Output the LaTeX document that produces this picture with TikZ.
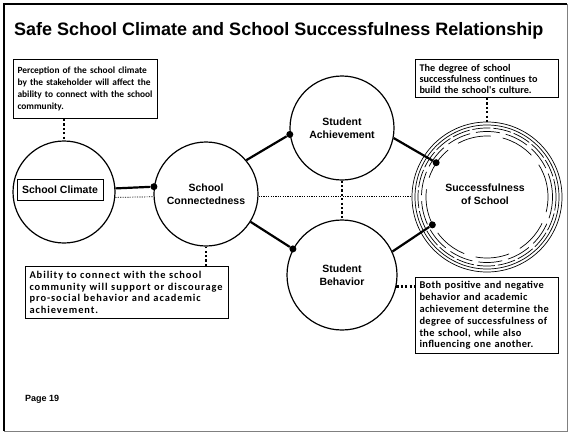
\documentclass[tikz,border=0pt]{standalone}
\usepackage{fontspec}
\setmainfont{Liberation Sans}
\newfontfamily\notefont{Carlito}
\newfontfamily\notefontwide[LetterSpace=9]{Carlito}
\newfontfamily\notefontmid[LetterSpace=3.5]{Carlito}
\usetikzlibrary{calc}

\tikzset{
  bubble/.style={circle, draw, line width=1.2pt, inner sep=0pt,
    font=\bfseries\fontsize{10.5}{13}\selectfont, align=center},
  halo/.style={circle, draw, line width=0.7pt, inner sep=0pt},
  link/.style={line width=2.2pt},
  joint/.style={circle, fill, inner sep=0pt, minimum size=7pt},
  faintlink/.style={line width=0.7pt, dash pattern=on 1.2pt off 1.2pt},
  heavylink/.style={line width=2.2pt, dash pattern=on 2.2pt off 2.2pt},
  note/.style={draw, line width=1pt, anchor=north west, inner sep=4pt,
    align=left, execute at begin node={\hyphenpenalty=10000\relax}},
}

\begin{document}
\begin{tikzpicture}[x=1pt, y=-1pt]
\useasboundingbox (0,0) rectangle (570,434);

% page frame
\draw[line width=2pt] (4,431) -- (4,4) -- (567,4);
\draw[gray, line width=0.8pt] (567,4) -- (567,431) -- (4,431);

% title and page number
\node[anchor=base west, inner sep=0pt, font=\bfseries\fontsize{18}{20}\selectfont]
  (title) at (14,35) {Safe School Climate and School Successfulness Relationship};
\node[anchor=base west, inner sep=0pt, font=\bfseries\fontsize{9}{10}\selectfont]
  (page) at (25,401) {Page 19};

% main circles
\node[bubble, minimum size=102pt] (climate) at (64,192) {};
\node[draw, line width=1pt, minimum width=86pt, minimum height=21pt, inner sep=0pt,
  font=\bfseries\fontsize{10.5}{12}\selectfont] (climatelabel) at (60,190) {School Climate};
\node[bubble, minimum size=104pt] (connect) at (206,194) {School\\Connectedness};
\node[bubble, minimum size=104pt] (achieve) at (342,128) {Student\\Achievement};
\node[bubble, minimum size=110pt] (behavior) at (342,275) {Student\\Behavior};

% successfulness: concentric rings
\node[halo, minimum size=150pt] (success) at (487,197) {};
\node[halo, minimum size=144pt] (ringb) at (success) {};
\node[halo, minimum size=138pt, dash pattern=on 18pt off 3pt] (ringc) at (success) {};
\node[halo, minimum size=131pt, dash pattern=on 24pt off 6pt] (ringd) at (success) {};
\node[halo, minimum size=122pt, dash pattern=on 34pt off 12pt] (core) at (success) {};
\node[align=center, inner sep=0pt, font=\bfseries\fontsize{10.5}{13}\selectfont]
  (successlabel) at (485,194) {Successfulness\\of School};

% junction dots
\node[joint] (jconnect) at (connect.172) {};
\node[joint] (jachieve) at (achieve.187) {};
\node[joint] (jbehavior) at (behavior.152) {};
\node[joint] (jsuccessa) at (core.146) {};
\node[joint] (jsuccessb) at (core.207) {};

% solid links
\draw[link] (climate.4) -- (jconnect);
\draw[link] (connect.40) -- (jachieve);
\draw[link] (connect.-32) -- (jbehavior);
\draw[link] (achieve.-11) -- (jsuccessa);
\draw[link] (behavior.25) -- (jsuccessb);

% faint dotted links
\draw[faintlink] (climate.-6) -- (connect.183);
\draw[faintlink] (connect.-3) -- (success.west |- connect.-3);

% notes
\node[note, text width=136pt, minimum height=59pt,
  font=\notefont\bfseries\fontsize{9.4}{11.8}\selectfont] (notea) at (13,59)
  {Perception of the school climate\\by the stakeholder will affect the\\ability to connect with the school\\community.};
\node[note, text width=135pt, minimum height=38pt,
  font=\notefont\bfseries\fontsize{10.2}{11}\selectfont] (noteb) at (415,59)
  {The degree of school\\successfulness continues to\\build the school's culture.};
\node[note, text width=195pt, minimum height=52pt,
  font=\notefontwide\bfseries\fontsize{10.4}{11.7}\selectfont] (notec) at (25,266)
  {Ability to connect with the school\\community will support or discourage\\pro-social behavior and academic\\achievement.};
\node[note, text width=135pt, minimum height=75pt,
  font=\notefontmid\bfseries\fontsize{10.4}{11.8}\selectfont] (noted) at (415,277)
  {Both positive and negative\\behavior and academic\\achievement determine the\\degree of successfulness of\\the school, while also\\influencing one another.};

% heavy dotted links
\draw[heavylink] (climate.north |- notea.south) -- (climate.north);
\draw[heavylink] (success.north |- noteb.south) -- (success.north);
\draw[heavylink] (connect.south |- notec.north) -- (connect.south);
\draw[heavylink] (achieve.south) -- (behavior.north);
\draw[heavylink] (behavior.-12) -- (noted.west |- behavior.-12);
\end{tikzpicture}
\end{document}
